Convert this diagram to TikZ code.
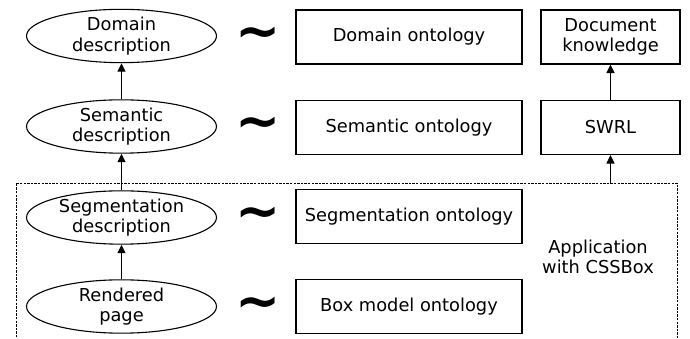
\documentclass[tikz,border=0pt]{standalone}
\usepackage{fontspec}
\setmainfont{DejaVu Sans}
\usetikzlibrary{shapes.geometric,arrows.meta}
\begin{document}
\begin{tikzpicture}[x=1pt,y=1pt,
  every node/.style={font=\fontsize{17.8}{20.5}\selectfont, align=center, inner sep=0pt},
  ell/.style={draw, line width=1.1pt, ellipse, minimum width=190pt, minimum height=53pt},
  obox/.style={draw, line width=1.1pt, rectangle, minimum width=226pt, minimum height=54pt},
  rbox/.style={draw, line width=1.1pt, rectangle, minimum width=139pt, minimum height=54pt},
  tld/.style={font=\fontsize{54}{54}\selectfont\bfseries},
  arr/.style={line width=1.1pt, -{Triangle[length=8.5pt,width=8pt]}}]
\useasboundingbox (0,0) rectangle (690,339);
% ellipses
\node[ell] (dom) at (121.5,303) {Domain\\description};
\node[ell] (sem) at (121.5,212.5) {Semantic\\description};
\node[ell] (seg) at (121.5,121.5) {Segmentation\\description};
\node[ell] (ren) at (121.5,32.5) {Rendered\\page};
% tildes
\node[tld] (t1) at (258,301) {∼};
\node[tld] (t2) at (258,211) {∼};
\node[tld] (t3) at (258,121) {∼};
\node[tld] (t4) at (258,31) {∼};
% ontology boxes
\node[obox] (dont) at (409,302) {Domain ontology};
\node[obox] (sont) at (409,211.5) {Semantic ontology};
\node[obox] (gont) at (409,122.5) {Segmentation ontology};
\node[obox] (bont) at (409,32.5) {Box model ontology};
% right boxes
\node[rbox] (dk) at (610.5,302) {Document\\knowledge};
\node[rbox] (swrl) at (610.5,211.5) {SWRL};
% application box
\coordinate (al) at (16,-2);
\coordinate (atl) at (16,156);
\coordinate (atr) at (677,156);
\coordinate (ar) at (677,-2);
\draw[line width=0.9pt, dash pattern=on 2.4pt off 1.2pt] (al) -- (atl) -- (atr) -- (ar);
\node (app) at (598,82) {Application\\with CSSBox};
\coordinate (sw0) at (610.5,156);
% arrows
\draw[arr] (ren) -- (seg);
\draw[arr] (seg) -- (sem);
\draw[arr] (sem) -- (dom);
\draw[arr] (sw0) -- (swrl);
\draw[arr] (swrl) -- (dk);
\end{tikzpicture}
\end{document}
